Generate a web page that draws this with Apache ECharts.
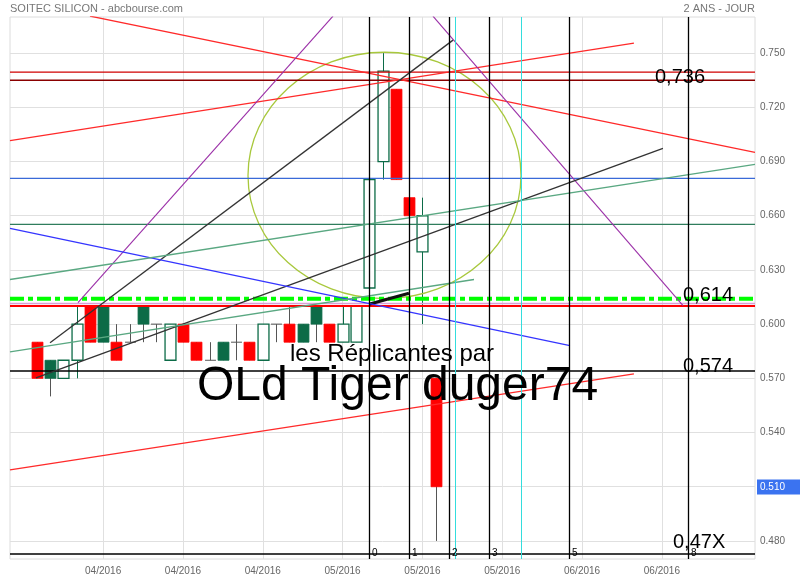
<!DOCTYPE html>
<html><head><meta charset="utf-8">
<script src="https://cdn.jsdelivr.net/npm/echarts@6/dist/echarts.min.js"></script>
<style>html,body{margin:0;padding:0;background:#fff}#c{width:800px;height:580px}</style>
</head><body><div id="c"></div>
<script>
// ---------------- data ----------------
const startDay = 2;      // first trading-day slot that holds a candle
const daySlots = 57;     // trading-day slots on the axis (incl. empty future)
const opens  = [0.590,0.580,0.570,0.580,0.610,0.610,0.590,0.590,0.610,0.600,0.580,0.600,0.590,0.580,0.590,0.590,0.590,0.580,0.600,0.600,0.600,0.610,0.600,0.590,0.590,0.620,0.690,0.730,0.670,0.640,0.570];
const closes = [0.570,0.570,0.580,0.600,0.590,0.590,0.580,0.590,0.600,0.600,0.600,0.590,0.580,0.580,0.580,0.590,0.580,0.600,0.600,0.590,0.590,0.600,0.590,0.600,0.610,0.680,0.740,0.680,0.660,0.660,0.510];
const lows   = [0.570,0.560,0.570,0.570,0.590,0.590,0.580,0.590,0.590,0.590,0.580,0.590,0.580,0.580,0.580,0.580,0.580,0.580,0.590,0.590,0.590,0.590,0.590,0.590,0.590,0.620,0.680,0.680,0.660,0.600,0.480];
const highs  = [0.590,0.580,0.580,0.610,0.610,0.610,0.600,0.600,0.610,0.600,0.600,0.600,0.590,0.590,0.590,0.600,0.590,0.600,0.600,0.610,0.600,0.610,0.600,0.610,0.610,0.680,0.750,0.730,0.670,0.670,0.570];

const xTickLabels = ['04/2016','04/2016','04/2016','05/2016','05/2016','05/2016','06/2016','06/2016'];
const xFirstTick = 7, xTickStep = 6;
const yTicks = [0.48,0.51,0.54,0.57,0.60,0.63,0.66,0.69,0.72,0.75];
const yMin = 0.47, yMax = 0.77;

// drawn horizontal levels (price)
const levels = [0.7395, 0.7350, 0.6807, 0.6552, 0.6140, 0.6114, 0.6100, 0.5740, 0.4727];
// drawn trend lines: [[day, price],[day, price]]
const trendLines = [
  [[6.01,0.7705],[56,0.6951]],
  [[0,0.7016],[46.9,0.7555]],
  [[0,0.5193],[46.9,0.5725]],
  [[5.11,0.6119],[24.28,0.7705]],
  [[31.79,0.7705],[50.59,0.6103]],
  [[3.01,0.5897],[33.3,0.7572]],
  [[1.95,0.5703],[49.08,0.6973]],
  [[26.98,0.6110],[29.99,0.6171]],
  [[0,0.6530],[42.09,0.5881]],
  [[0,0.6247],[56,0.6884]],
  [[0,0.5847],[34.88,0.6247]]
];
const ellipse = [28.15, 0.6823, 10.26, 0.0682]; // centre day, centre price, day radius, price radius
const fibDays = [27,30,33,36,42,51];
const fibLabels = ['0','1','2','3','5','8'];
const cyanDays = [33.47, 38.43];

// ---------------- styles ----------------
const GREEN = '#0c6b47', RED = '#ff0000';
const FONT = '"Liberation Sans", Arial, Helvetica, sans-serif';
const levelStyles = [
  {color:'#d00000', width:1.3},
  {color:'#8a0000', width:1.3},
  {color:'#3a6ad8', width:1.3},
  {color:'#2f7d5c', width:1.3},
  {color:'#00ff00', width:4, dash:[14,4,5,4]},
  {color:'#d7a0d7', width:1.5},
  {color:'#ff0000', width:2},
  {color:'#000000', width:1.5},
  {color:'#000000', width:1.5}
];
const trendStyles = [
  {color:'#ff2a2a', width:1.3},
  {color:'#ff2a2a', width:1.3},
  {color:'#ff2a2a', width:1.3},
  {color:'#9b30a8', width:1.1},
  {color:'#9b30a8', width:1.1},
  {color:'#333333', width:1.3},
  {color:'#333333', width:1.3},
  {color:'#111111', width:3},
  {color:'#3535ff', width:1.3},
  {color:'#5aa882', width:1.3},
  {color:'#5aa882', width:1.3}
];

// ---------------- build ----------------
const categories = Array.from({length: daySlots}, (_, i) => {
  const k = (i - xFirstTick) / xTickStep;
  return (Number.isInteger(k) && k >= 0 && k < xTickLabels.length) ? xTickLabels[k] : '';
});
const candleData = opens.map((o, k) => [startDay + k, o, closes[k], lows[k], highs[k]]);
const lastClose = closes[closes.length - 1];

function renderCandle(params, api) {
  const k = params.dataIndex;
  const d = api.value(0), o = api.value(1), c = api.value(2), l = api.value(3), h = api.value(4);
  const prev = k > 0 ? closes[k - 1] : o;
  const col = c >= prev ? GREEN : RED;
  const bw = api.size([1, 0])[0] * 0.82;
  const po = api.coord([d, o]), pc = api.coord([d, c]);
  const yl = api.coord([d, l])[1], yh = api.coord([d, h])[1];
  const xc = Math.round(po[0]) + 0.5;
  const hollow = c > o, flat = Math.abs(c - o) < 1e-9;
  const children = [];
  children.push({type:'line', shape:{x1:xc, y1:yh, x2:xc, y2:yl}, style:{stroke: hollow ? col : '#555', lineWidth:1}});
  if (flat) {
    children.push({type:'line', shape:{x1:xc - bw/2, y1:po[1], x2:xc + bw/2, y2:po[1]}, style:{stroke:'#555', lineWidth:1}});
  } else {
    children.push({type:'rect', shape:{x:xc - bw/2, y:Math.min(po[1], pc[1]), width:bw, height:Math.abs(po[1] - pc[1])},
      style:{fill: hollow ? '#fff' : col, stroke: col, lineWidth: hollow ? 1.3 : 0.8}});
  }
  return {type:'group', children};
}

function renderLevel(params, api) {
  const cs = params.coordSys;
  const y = api.coord([0, api.value(1)])[1];
  const s = levelStyles[params.dataIndex];
  return {type:'line', shape:{x1:cs.x, y1:y, x2:cs.x + cs.width, y2:y},
    style:{stroke:s.color, lineWidth:s.width, lineDash: s.dash || null}};
}

function renderVLine(color, width, labels) {
  return function (params, api) {
    const cs = params.coordSys;
    const x = Math.round(api.coord([api.value(0), yMin])[0]) + 0.5;
    const children = [{type:'line', shape:{x1:x, y1:cs.y, x2:x, y2:cs.y + cs.height}, style:{stroke:color, lineWidth:width}}];
    if (labels) {
      children.push({type:'text', x:x + 2.5, y:cs.y + cs.height - 5.5,
        style:{text: labels[params.dataIndex], fill:'#000', font:'10px ' + FONT, verticalAlign:'middle', align:'left'}});
    }
    return {type:'group', children};
  };
}

function renderEllipse(params, api) {
  const c = api.coord([api.value(0), api.value(1)]);
  const r = api.size([api.value(2), api.value(3)]);
  return {type:'ellipse', shape:{cx:c[0], cy:c[1], rx:r[0], ry:r[1]},
    style:{fill:'none', stroke:'#a8c83c', lineWidth:1.3}};
}

// last-price tag on the right axis
function renderPriceTag(params, api) {
  const cs = params.coordSys;
  const y = api.coord([0, api.value(1)])[1];
  const txt = api.value(1).toFixed(3);
  return {type:'group', children:[
    {type:'rect', shape:{x:cs.x + cs.width + 2, y:Math.round(y) - 7.5, width:43, height:15}, style:{fill:'#3b73f0'}},
    {type:'text', x:cs.x + cs.width + 5, y:Math.round(y), style:{text:txt, fill:'#fff', font:'10px ' + FONT, verticalAlign:'middle', align:'left'}}
  ]};
}

const series = [];
series.push({type:'custom', name:'candles', xAxisIndex:1, renderItem: renderCandle, data: candleData, z:2, clip:true,
  encode:{x:0, y:[1,2,3,4]}});
series.push({type:'custom', xAxisIndex:1, renderItem: renderEllipse, data:[ellipse], z:3, clip:true, encode:{x:0, y:1}});
series.push({type:'custom', xAxisIndex:1, renderItem: renderLevel, data: levels.map(v => [0, v]), z:4, encode:{x:0, y:1}});
trendLines.forEach((pts, k) => {
  const s = trendStyles[k];
  series.push({type:'line', xAxisIndex:1, data: pts, showSymbol:false, symbol:'none', clip:true, z:5,
    lineStyle:{color:s.color, width:s.width}, silent:true});
});
series.push({type:'custom', xAxisIndex:1, renderItem: renderVLine('#33dddd', 1, null), data: cyanDays.map(d => [d, yMin]), z:6, encode:{x:0, y:1}});
series.push({type:'custom', xAxisIndex:1, renderItem: renderVLine('#000', 1.3, fibLabels), data: fibDays.map(d => [d, yMin]), z:6, encode:{x:0, y:1}});
series.push({type:'custom', xAxisIndex:1, renderItem: renderPriceTag, data: [[0, lastClose]], z:20, clip:false, encode:{x:0, y:1}});

const chart = echarts.init(document.getElementById('c'), null, {renderer:'canvas'});
chart.setOption({
  animation:false,
  backgroundColor:'#fff',
  grid:{left:10, right:45, top:17, bottom:21, show:true, borderColor:'#dcdcdc', borderWidth:1, containLabel:false, outerBoundsMode:'none'},
  xAxis:[
    {type:'category', data:categories, boundaryGap:false, position:'bottom',
      axisLine:{show:false}, axisTick:{show:false},
      axisLabel:{interval:(i, v) => v !== '', color:'#666', fontSize:10, fontFamily:FONT, margin:7},
      splitLine:{show:true, interval:(i, v) => v !== '', lineStyle:{color:'#e0e0e0', width:1}}},
    {type:'value', min:0, max:daySlots - 1, show:false, splitLine:{show:false}}
  ],
  yAxis:{type:'value', position:'right', min:yMin, max:yMax, scale:true,
    axisLine:{show:false}, axisTick:{show:false, customValues:yTicks},
    axisLabel:{customValues:yTicks, formatter: v => v.toFixed(3), color:'#666', fontSize:10, fontFamily:FONT, margin:5},
    splitLine:{show:true, lineStyle:{color:'#e0e0e0', width:1}}},
  series,
  graphic:[
    {type:'text', x:10, y:9, z:100, style:{text:'SOITEC SILICON - abcbourse.com', font:'11px ' + FONT, fill:'#777', verticalAlign:'middle', align:'left'}},
    {type:'text', x:755, y:9, z:100, style:{text:'2 ANS - JOUR', font:'11px ' + FONT, fill:'#777', verticalAlign:'middle', align:'right'}},
    {type:'text', x:290, y:354, z:100, style:{text:'les Réplicantes par', font:'24px ' + FONT, fill:'#000', verticalAlign:'middle', align:'left'}},
    {type:'text', x:197, y:387, z:100, style:{text:'OLd Tiger duger74', font:'48px ' + FONT, fill:'#000', verticalAlign:'middle', align:'left'}},
    {type:'text', x:655, y:77, z:100, style:{text:'0,736', font:'20px ' + FONT, fill:'#000', verticalAlign:'middle', align:'left'}},
    {type:'text', x:683, y:295, z:100, style:{text:'0,614', font:'20px ' + FONT, fill:'#000', verticalAlign:'middle', align:'left'}},
    {type:'text', x:683, y:366, z:100, style:{text:'0,574', font:'20px ' + FONT, fill:'#000', verticalAlign:'middle', align:'left'}},
    {type:'text', x:673, y:542, z:100, style:{text:'0,47X', font:'20px ' + FONT, fill:'#000', verticalAlign:'middle', align:'left'}}
  ]
});
</script>
</body></html>
